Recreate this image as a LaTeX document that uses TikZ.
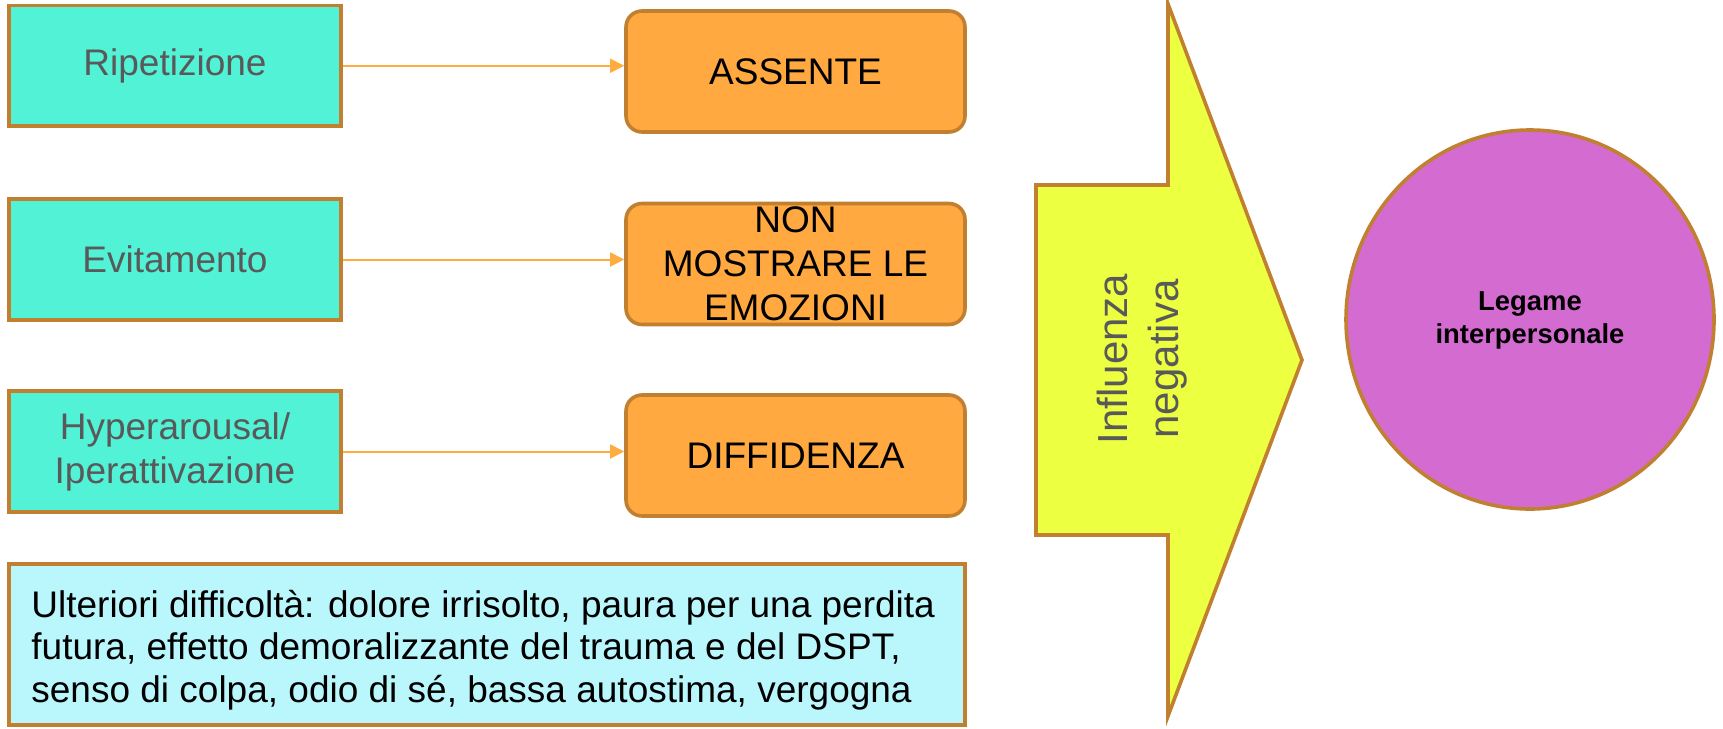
\documentclass[tikz,border=0pt]{standalone}
\usepackage{fontspec}
\setmainfont{Liberation Sans}
\usetikzlibrary{arrows.meta}
\definecolor{brd}{RGB}{192,128,48}
\definecolor{teal1}{RGB}{82,242,214}
\definecolor{orng}{RGB}{255,169,64}
\definecolor{arrc}{RGB}{255,172,64}
\definecolor{lcyan}{RGB}{186,247,252}
\definecolor{ylw}{RGB}{236,255,64}
\definecolor{purp}{RGB}{211,107,209}
\definecolor{gtxt}{RGB}{89,89,89}
\tikzset{
  leftbox/.style={draw=brd, line width=1.8pt, fill=teal1, minimum width=166pt, minimum height=60.25pt, inner sep=0pt, align=center, text=gtxt, font=\fontsize{18.5}{22}\selectfont},
  rightbox/.style={draw=brd, line width=1.8pt, fill=orng, rounded corners=8pt, minimum width=169.5pt, minimum height=60.5pt, inner sep=0pt, align=center, text=black, font=\fontsize{18.5}{22}\selectfont},
  conn/.style={draw=arrc, line width=1pt, -{Triangle[length=7pt,width=7pt]}},
}
\begin{document}
\begin{tikzpicture}[x=0.5pt,y=-0.5pt]
\useasboundingbox (0,0) rectangle (1723,728);
% left boxes
\node[leftbox] (l1) at (175,65.75) {Ripetizione};
\node[leftbox] (l2) at (175,259.5) {Evitamento};
\node[leftbox] (l3) at (175,451.5) {Hyperarousal/\\Iperattivazione};
% right boxes
\node[rightbox] (r1) at (795.5,71.5) {ASSENTE};
\node[rightbox] (r2) at (795.5,264) {};
\node[align=center, inner sep=0pt, font=\fontsize{18.5}{22}\selectfont] (r2t) at (r2.center) {NON\\MOSTRARE LE\\EMOZIONI};
\node[rightbox] (r3) at (795.5,455.5) {DIFFIDENZA};
% connectors
\draw[conn] (l1.east) -- (l1.east -| r1.west);
\draw[conn] (l2.east) -- (l2.east -| r2.west);
\draw[conn] (l3.east) -- (l3.east -| r3.west);
% bottom box
\node[draw=brd, line width=1.8pt, fill=lcyan, minimum width=478pt, minimum height=80.5pt, inner sep=0pt] (bot) at (487,644.5) {};
\node[anchor=west, align=left, inner sep=0pt, font=\fontsize{18.5}{21.2}\selectfont] (bott) at (31,650) {Ulteriori difficoltà: dolore irrisolto, paura per una perdita\\futura, effetto demoralizzante del trauma e del DSPT,\\senso di colpa, odio di sé, bassa autostima, vergogna};
% big arrow
\draw[draw=brd, line width=1.8pt, fill=ylw, line join=miter]
  (1036,185) -- (1168,185) -- (1168,4) -- (1302,360) -- (1168,716) -- (1168,535) -- (1036,535) -- cycle;
\node[rotate=90, align=center, text=gtxt, inner sep=0pt, font=\fontsize{21}{25.8}\selectfont] (infl) at (1142,359) {Influenza\\negativa};
% circle
\draw[draw=brd, line width=1.8pt, fill=purp] (1530,319.5) ellipse [x radius=184, y radius=189.5];
\node[align=center, inner sep=0pt, font=\fontsize{13.7}{16.5}\selectfont\bfseries] (leg) at (1530,320) {Legame\\interpersonale};
\end{tikzpicture}
\end{document}
